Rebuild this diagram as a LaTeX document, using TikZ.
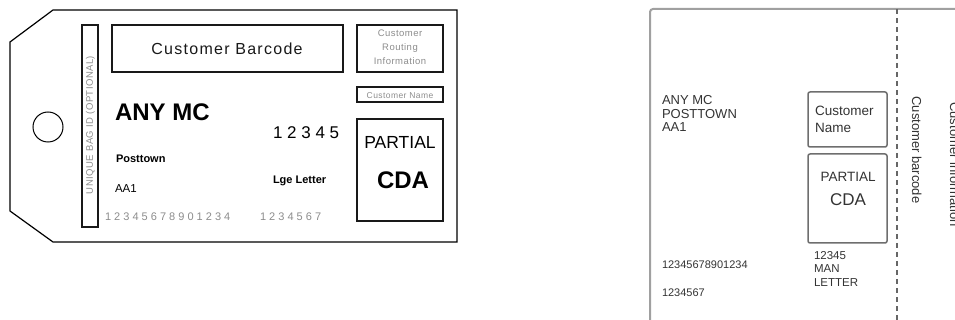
\documentclass[tikz,border=0pt]{standalone}
\usepackage{fontspec}
\setmainfont{Liberation Sans}
\newfontfamily\spacedA[LetterSpace=8]{Liberation Sans}
\newfontfamily\spacedB[LetterSpace=5]{Liberation Sans}
\definecolor{faint}{HTML}{8C8C8C}
\definecolor{cardgray}{HTML}{A0A0A0}
\definecolor{boxgray}{HTML}{6E6E6E}
\definecolor{inkgray}{HTML}{333333}
\begin{document}
\begin{tikzpicture}[x=1pt,y=-1pt,
  tagline/.style={draw=black, line width=1.2pt},
  fieldbox/.style={draw=black!90, line width=1.6pt, inner sep=0pt},
  softbox/.style={draw=boxgray, line width=1.5pt, rounded corners=2pt, inner sep=0pt},
  cardline/.style={draw=cardgray, line width=2pt, rounded corners=3pt},
  perfline/.style={draw=black!60, line width=1.5pt, dash pattern=on 5pt off 4pt},
  txt/.style={inner sep=0pt, outer sep=0pt},
  lbl/.style={txt, anchor=base west},
  clbl/.style={txt, anchor=base}]
\useasboundingbox (0,0) rectangle (955,320);
\clip (0,0) rectangle (955,320);

% ---------- left: luggage tag ----------
\draw[tagline] (53,10) -- (457,10) -- (457,242) -- (53,242) -- (10,211) -- (10,42) -- cycle;
\node[circle, draw=black, line width=1pt, minimum size=30pt, inner sep=0pt] (hole) at (48,127) {};

\node[fieldbox, minimum width=16pt, minimum height=202pt] (bagid) at (90,126) {};
\node[txt, rotate=90, text=faint, font=\fontsize{9.5}{10}\spacedB] (bagidt) at (90.5,125) {UNIQUE BAG ID (OPTIONAL)};

\node[fieldbox, minimum width=231pt, minimum height=47pt] (barcode) at (227.5,48.5) {};
\node[clbl, font=\fontsize{16}{18}\spacedA, text=black!90] (barcodet) at (227,54.7) {Customer Barcode};

\node[fieldbox, minimum width=86pt, minimum height=47pt] (routing) at (400,48.5) {};
\node[clbl, font=\fontsize{9.5}{10}\spacedB, text=faint] (rt1) at (400,36.6) {Customer};
\node[clbl, font=\fontsize{9.5}{10}\spacedB, text=faint] (rt2) at (400,50.6) {Routing};
\node[clbl, font=\fontsize{9.5}{10}\spacedB, text=faint] (rt3) at (400,64.6) {Information};

\node[fieldbox, minimum width=86pt, minimum height=15pt] (cname) at (400,94.5) {};
\node[clbl, font=\fontsize{8.5}{10}\spacedB, text=faint] (cnamet) at (400,98.2) {Customer Name};

\node[fieldbox, minimum width=86pt, minimum height=102pt] (cda) at (400,170) {};
\node[clbl, font=\fontsize{17.5}{20}\selectfont] (partial) at (400,148.3) {PARTIAL};
\node[clbl, font=\fontsize{24}{26}\selectfont\bfseries] (cdat) at (403,188.6) {CDA};

\node[lbl, font=\fontsize{24}{26}\selectfont\bfseries] (anymc) at (115,120.6) {ANY MC};
\node[lbl, font=\fontsize{17}{19}\selectfont] (code5) at (273,139) {1 2 3 4 5};
\node[lbl, font=\fontsize{11}{13}\selectfont\bfseries] (posttown) at (116,163) {Posttown};
\node[lbl, font=\fontsize{11.5}{13}\selectfont] (aa1) at (115,193) {AA1};
\node[lbl, font=\fontsize{11}{13}\selectfont\bfseries] (lge) at (273,184) {Lge Letter};
\node[lbl, font=\fontsize{11}{13}\selectfont, text=faint] (num14) at (105,221) {1 2 3 4 5 6 7 8 9 0 1 2 3 4};
\node[lbl, font=\fontsize{11}{13}\selectfont, text=faint] (num7) at (260,221) {1 2 3 4 5 6 7};

% ---------- right: label card ----------
\draw[cardline] (650,330) -- (650,9) -- (965,9);
\coordinate (perftop) at (897,9);
\coordinate (perfbot) at (897,320);
\draw[perfline] (perftop) -- (perfbot);

\node[lbl, font=\fontsize{13}{14}\selectfont, text=inkgray] (r1) at (662,104.7) {ANY MC};
\node[lbl, font=\fontsize{13}{14}\selectfont, text=inkgray] (r2) at (662,118.7) {POSTTOWN};
\node[lbl, font=\fontsize{13}{14}\selectfont, text=inkgray] (r3) at (662,131.7) {AA1};

\node[lbl, font=\fontsize{11}{13}\selectfont, text=inkgray] (r4) at (662,269) {12345678901234};
\node[lbl, font=\fontsize{11}{13}\selectfont, text=inkgray] (r5) at (662,296) {1234567};

\node[softbox, minimum width=79pt, minimum height=55pt] (rname) at (847.5,119.5) {};
\node[lbl, font=\fontsize{13.5}{15}\selectfont, text=inkgray] (rn1) at (815,115.8) {Customer};
\node[lbl, font=\fontsize{13.5}{15}\selectfont, text=inkgray] (rn2) at (815,133) {Name};

\node[softbox, minimum width=79pt, minimum height=89pt] (rcda) at (847.5,198.5) {};
\node[clbl, font=\fontsize{13.5}{15}\selectfont, text=inkgray] (rpartial) at (848,181.8) {PARTIAL};
\node[clbl, font=\fontsize{17}{19}\selectfont, text=inkgray] (rcdat) at (848,206) {CDA};

\node[lbl, font=\fontsize{11.5}{13}\selectfont, text=inkgray] (m1) at (814,259) {12345};
\node[lbl, font=\fontsize{11.5}{13}\selectfont, text=inkgray] (m2) at (814,272.5) {MAN};
\node[lbl, font=\fontsize{11.5}{13}\selectfont, text=inkgray] (m3) at (814,286) {LETTER};

\node[clbl, rotate=-90, font=\fontsize{13}{15}\selectfont, text=inkgray] (rbar) at (912,150) {Customer barcode};
\node[clbl, rotate=-90, font=\fontsize{13}{15}\selectfont, text=inkgray] (rinfo) at (950,164.5) {Customer information};
\end{tikzpicture}
\end{document}
